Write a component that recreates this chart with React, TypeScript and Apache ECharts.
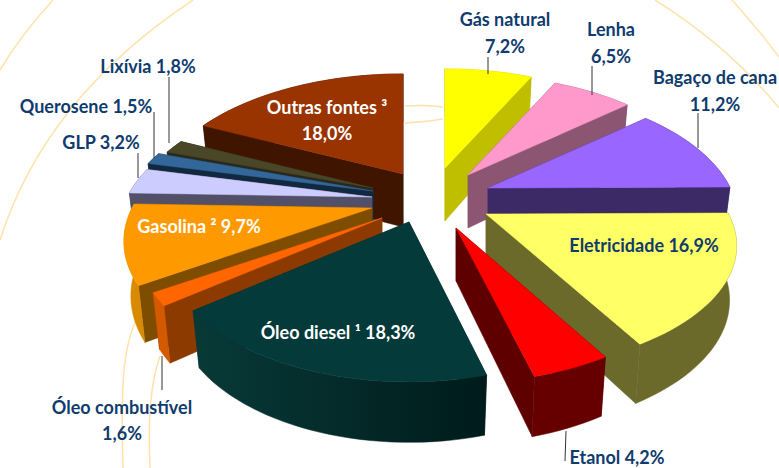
import React, { useEffect, useRef } from "react";
import * as echarts from "echarts";

const categories = ["Gás natural", "Lenha", "Bagaço de cana", "Eletricidade", "Etanol", "Óleo diesel", "Óleo combustível", "Gasolina", "GLP", "Querosene", "Lixívia", "Outras fontes"];
const values = [7.2, 6.5, 11.2, 16.9, 4.2, 18.3, 1.6, 9.7, 3.2, 1.5, 1.8, 18.0];

// Per-slice look and explosion, in the same order as the values
const explodeX = [25, 48, 68, 66, 36, -11, -38, -48, -48, -47, -47, -17];
const explodeY = [-32, -25, -12, 14, 28, 22, 18, 8, -3, -9, -12, -26];
const radiusScale = [1.01, 1.02, 1.01, 1.01, 0.98, 0.97, 0.98, 1, 1.02, 1.02, 0.98, 1.02];
const tiltScale = [1, 1, 1, 0.94, 0.96, 1, 0.98, 1, 1, 1, 1, 1];
const paintOrder = [0, 1, 2, 11, 10, 9, 8, 7, 3, 6, 4, 5];
const topColors = ["#FFFF00", "#FF99CC", "#9966FF", "#FFFF66", "#FF0000", "#043A3A", "#FF6600", "#FF9900", "#CCCCFF", "#336699", "#4A4628", "#993300"];
const cutColors = ["#BFBF00", "#8C5572", "#3C2A66", "#6B6A2B", "#5E0000", "#043030", "#8C3A00", "#7F4D00", "#525068", "#12283F", "#2A2818", "#3F1500"];
const rimColors = ["#BFBF00", "#8C5572", "#3C2A66", "#6B6A2B", "#660000", "#043030", "#D45A00", "#D88A00", "#525068", "#12283F", "#2A2818", "#3F1500"];

// Pie projection
const CX = 420, CY = 200, RX = 240, RY = 123, PERSP = 3.94, DEPTH = 53;

const labels = [
  { lines: ["Gás natural", "7,2%"], x: 505, y: [19, 46], color: "#0F3B6E" },
  { lines: ["Lenha", "6,5%"], x: 611, y: [29, 56], color: "#0F3B6E" },
  { lines: ["Bagaço de cana", "11,2%"], x: 715, y: [77, 104], color: "#0F3B6E" },
  { lines: ["Lixívia 1,8%"], x: 148, y: [66], color: "#0F3B6E" },
  { lines: ["Querosene 1,5%"], x: 86, y: [106], color: "#0F3B6E" },
  { lines: ["GLP 3,2%"], x: 101, y: [142], color: "#0F3B6E" },
  { lines: ["Outras fontes ³", "18,0%"], x: 327, y: [107, 133], color: "#FFFFFF" },
  { lines: ["Gasolina ² 9,7%"], x: 199, y: [226], color: "#FFFFFF" },
  { lines: ["Óleo diesel ¹ 18,3%"], x: 338, y: [332], color: "#FFFFFF" },
  { lines: ["Eletricidade 16,9%"], x: 644, y: [245], color: "#0F3B6E" },
  { lines: ["Etanol 4,2%"], x: 617, y: [457], color: "#0F3B6E" },
  { lines: ["Óleo combustível", "1,6%"], x: 122, y: [407, 433], color: "#0F3B6E" },
];

const leaders = [
  [169, 77, 169, 143], [154, 112, 154, 158], [138, 153, 138, 178],
  [488, 57, 488, 74], [592, 66, 592, 95], [698, 113, 698, 148],
  [566, 431, 565, 461], [162, 356, 162, 390],
];

const decoCurves = [
  [53, 0, 30, 25, 15, 45, 0, 70],
  [193, 0, 110, 55, 35, 130, 0, 240],
  [137, 317, 125, 345, 120, 370, 123, 468],
  [160, 356, 150, 385, 148, 420, 150, 468],
  [655, 0, 695, 25, 740, 60, 779, 108],
  [732, 0, 748, 18, 765, 38, 779, 57],
  [405, 106, 420, 105, 432, 105, 443, 107],
  [405, 123, 420, 122, 432, 121, 443, 119],
];

const total = values.reduce((a, b) => a + b, 0);
const starts = values.map((_, i) => values.slice(0, i).reduce((a, b) => a + b, 0));

function renderSlice(_params: any, api: any) {
  const i = api.value(0);
  const value = api.value(1);
  const ax = CX + explodeX[i];
  const ay = CY + explodeY[i];
  const rs = radiusScale[i];
  const ts = tiltScale[i];
  const z = paintOrder.indexOf(i) * 10;
  const a0 = (starts[i] / total) * Math.PI * 2;
  const a1 = ((starts[i] + value) / total) * Math.PI * 2;

  const top = (t: number): number[] => {
    const sx = Math.sin(t), cy = Math.cos(t);
    const k = PERSP / (PERSP + cy);
    return [ax + RX * rs * sx * k, ay - RY * rs * ts * cy * k];
  };
  const bottom = (t: number): number[] => {
    const cy = Math.cos(t);
    const k = PERSP / (PERSP + cy);
    const p = top(t);
    return [ax + (p[0] - ax) * 0.972, p[1] + DEPTH * Math.pow(k, 0.45)];
  };
  const steps = Math.max(2, Math.ceil((a1 - a0) / (Math.PI / 90)));
  const arc: number[] = [];
  for (let s = 0; s <= steps; s++) arc.push(a0 + ((a1 - a0) * s) / steps);

  const apexTop = [ax, ay];
  const apexBottom = [ax, ay + DEPTH];
  const rimFill: any = i === 5
    ? new echarts.graphic.LinearGradient(0, 0, 1, 0, [
        { offset: 0, color: "#083A38" },
        { offset: 1, color: "#001B1B" },
      ])
    : rimColors[i];
  const poly = (points: number[][], fill: any, z2: number) => ({
    type: "polygon",
    z2,
    silent: true,
    shape: { points },
    style: { fill, stroke: fill, lineWidth: 0.5 },
  });
  return {
    type: "group",
    children: [
      poly([apexTop, top(a0), bottom(a0), apexBottom], cutColors[i], z + 1),
      poly([apexTop, top(a1), bottom(a1), apexBottom], cutColors[i], z + 2),
      poly([...arc.map(top), ...arc.slice().reverse().map(bottom)], rimFill, z + 3),
      poly([apexTop, ...arc.map(top)], topColors[i], z + 4),
    ],
  };
}

export default function App() {
  const ref = useRef<HTMLDivElement>(null);
  useEffect(() => {
    document.body.style.margin = "0";
    const chart = echarts.init(ref.current!, undefined, { renderer: "svg" });
    const graphics: any[] = [];
    decoCurves.forEach((c) =>
      graphics.push({
        type: "bezierCurve",
        z: 0,
        silent: true,
        shape: { x1: c[0], y1: c[1], cpx1: c[2], cpy1: c[3], cpx2: c[4], cpy2: c[5], x2: c[6], y2: c[7] },
        style: { stroke: "#FCE3AE", lineWidth: 1.5, fill: "none" },
      })
    );
    leaders.forEach((l) =>
      graphics.push({
        type: "line",
        z: 50,
        silent: true,
        shape: { x1: l[0], y1: l[1], x2: l[2], y2: l[3] },
        style: { stroke: "#333333", lineWidth: 1 },
      })
    );
    labels.forEach((lab) =>
      lab.lines.forEach((t, n) =>
        graphics.push({
          type: "text",
          z: 60,
          silent: true,
          x: lab.x,
          y: lab.y[n],
          style: {
            text: t,
            fill: lab.color,
            font: 'bold 18px Lato, "Open Sans", sans-serif',
            textAlign: "center",
            textVerticalAlign: "middle",
          },
        })
      )
    );
    chart.setOption({
      animation: false,
      backgroundColor: "#FFFFFF",
      graphic: { elements: graphics },
      series: [
        {
          type: "custom",
          coordinateSystem: "none",
          name: "Participação",
          renderItem: renderSlice,
          data: values.map((v, i) => ({ name: categories[i], value: [i, v] })),
          z: 5,
        },
      ],
    });
    return () => chart.dispose();
  }, []);
  return <div ref={ref} style={{ position: "absolute", left: 0, top: 0, width: 779, height: 468 }} />;
}
